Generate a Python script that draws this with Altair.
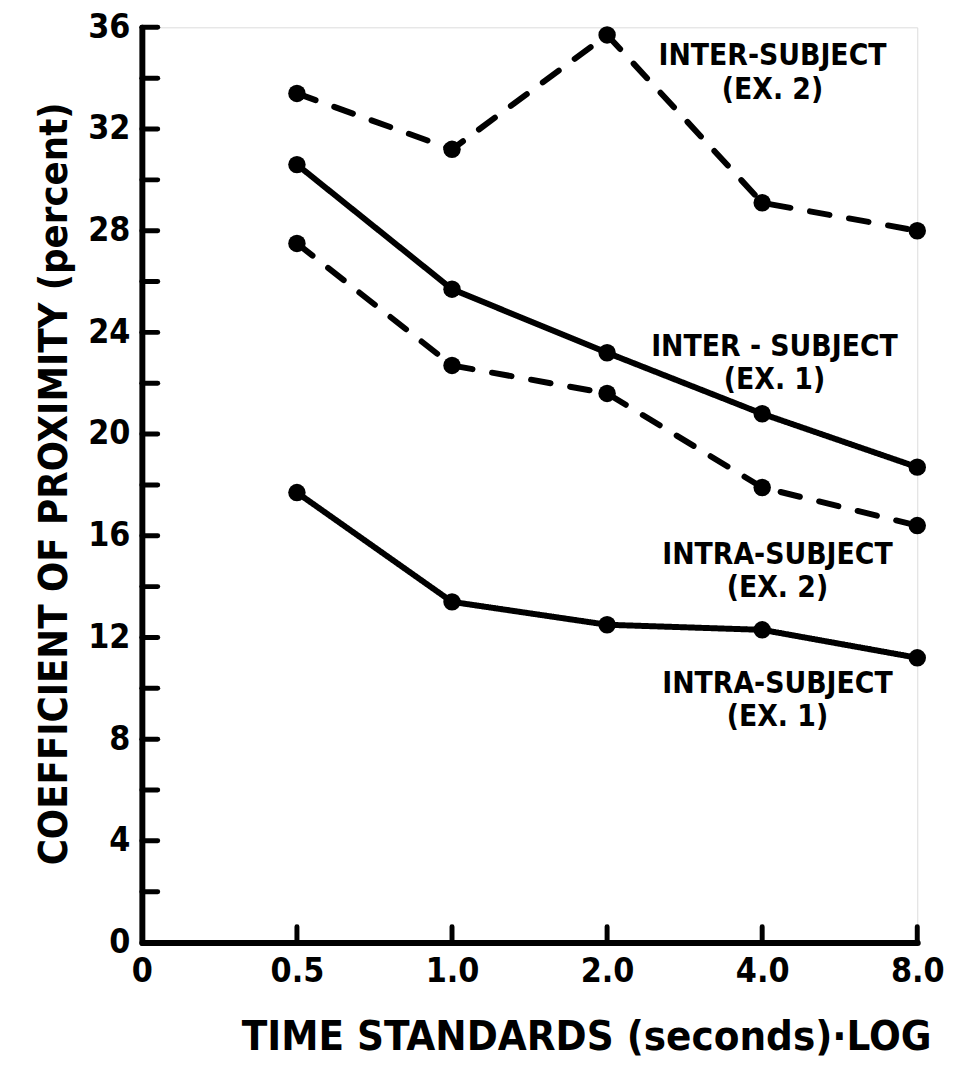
import altair as alt
import pandas as pd

# ---- data ----
time_standards = [0.5, 1.0, 2.0, 4.0, 8.0]
inter_ex2 = [33.4, 31.2, 35.7, 29.1, 28.0]
inter_ex1 = [30.6, 25.7, 23.2, 20.8, 18.7]
intra_ex2 = [27.5, 22.7, 21.6, 17.9, 16.4]
intra_ex1 = [17.7, 13.4, 12.5, 12.3, 11.2]
series_names = ["INTER-SUBJECT (EX. 2)", "INTER-SUBJECT (EX. 1)",
                "INTRA-SUBJECT (EX. 2)", "INTRA-SUBJECT (EX. 1)"]
x_tick_values = [0.25, 0.5, 1, 2, 4, 8]
y_label_values = [0, 4, 8, 12, 16, 20, 24, 28, 32, 36]
y_minor_values = [2, 4, 6, 8, 10, 12, 14, 16, 18, 20, 22, 24, 26, 28, 30, 32, 34, 36]
x_minor_values = [0.5, 1, 2, 4, 8]

rows = []
for name, vals in zip(series_names, [inter_ex2, inter_ex1, intra_ex2, intra_ex1]):
    for t, v in zip(time_standards, vals):
        rows.append({"series": name, "t": t, "v": v})
df = pd.DataFrame(rows)

FONT = "Liberation Sans Narrow, DejaVu Sans Condensed, Arial Narrow, sans-serif"
W, H = 782, 923

xscale = alt.Scale(type="log", base=2, domain=[0.25, 8], nice=False)
yscale = alt.Scale(domain=[0, 36], nice=False, zero=True)

x_enc = alt.X("t:Q", scale=xscale, axis=alt.Axis(
    values=x_tick_values, ticks=False, grid=False,
    labelExpr="datum.value < 0.3 ? '0' : format(datum.value, '.1f')",
    labelFont=FONT, labelFontSize=34, labelFontWeight="bold", labelColor="black",
    labelPadding=12, labelFlush=False,
    domainColor="black", domainWidth=6, domainCap="round",
    title="TIME  STANDARDS (seconds)·LOG", titleFont=FONT, titleFontSize=42,
    titleFontWeight="bold", titleColor="black", titleX=448, titleY=95,
    titleBaseline="middle", titleAlign="center"))
y_enc = alt.Y("v:Q", scale=yscale, axis=alt.Axis(
    values=y_label_values, ticks=False, grid=False,
    labelFont=FONT, labelFontSize=34, labelFontWeight="bold", labelColor="black",
    labelPadding=12, labelFlush=False, labelBaseline="middle",
    domainColor="black", domainWidth=6, domainCap="round",
    title="COEFFICIENT OF PROXIMITY  (percent)", titleFont=FONT, titleFontSize=40,
    titleFontWeight="bold", titleColor="black", titleX=-88, titleY=460,
    titleAngle=-90, titleBaseline="middle", titleAlign="center"))

dash_scale = alt.Scale(domain=series_names,
                       range=[[20, 20], [1, 0], [20, 20], [1, 0]])

lines = alt.Chart(df).mark_line(color="black", strokeWidth=6, strokeCap="round",
                                strokeJoin="round").encode(
    x=x_enc, y=y_enc,
    detail="series:N",
    strokeDash=alt.StrokeDash("series:N", scale=dash_scale, legend=None))

points = alt.Chart(df).mark_point(filled=True, shape="circle", size=310,
                                  color="black", opacity=1).encode(
    x=alt.X("t:Q", scale=xscale), y=alt.Y("v:Q", scale=yscale))

yticks = alt.Chart(pd.DataFrame({"v": y_minor_values})).mark_rule(
    color="black", strokeWidth=5, strokeCap="round").encode(
    y=alt.Y("v:Q", scale=yscale), x=alt.value(0), x2=alt.value(16))

xticks = alt.Chart(pd.DataFrame({"t": x_minor_values})).mark_rule(
    color="black", strokeWidth=5, strokeCap="round").encode(
    x=alt.X("t:Q", scale=xscale), y=alt.value(H), y2=alt.value(H - 16))

def label(text, x, y):
    return alt.Chart(pd.DataFrame({"s": [text]})).mark_text(
        font=FONT, fontSize=30, fontWeight="bold", color="black",
        align="center", baseline="middle", lineBreak="\n", lineHeight=34).encode(
        text="s:N", x=alt.value(x), y=alt.value(y))

labels = [
    label("INTER-SUBJECT\n(EX. 2)", 636, 29),
    label("INTER - SUBJECT\n(EX. 1)", 638, 322),
    label("INTRA-SUBJECT\n(EX. 2)", 641, 532),
    label("INTRA-SUBJECT\n(EX. 1)", 641, 662),
]

chart = alt.layer(yticks, xticks, lines, points, *labels).properties(
    width=W, height=H,
    autosize=alt.AutoSizeParams(type="none"),
    padding={"left": 135, "top": 15, "right": 30, "bottom": 116},
).configure_view(strokeWidth=0, stroke="transparent").configure(background="white")

chart.save("out.html", embed_options={"renderer": "svg", "actions": False})
